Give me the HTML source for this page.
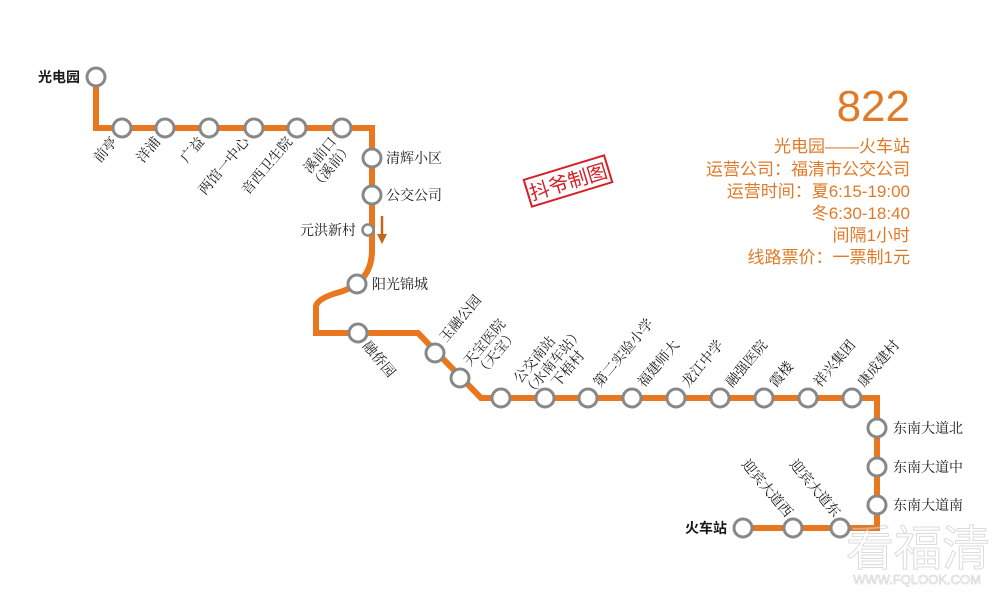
<!DOCTYPE html>
<html><head><meta charset="utf-8"><style>
html,body{margin:0;padding:0;background:#fff;width:1000px;height:608px;overflow:hidden}
svg text{font-family:"Liberation Serif","Noto Serif CJK SC","Noto Sans CJK SC",serif;font-size:14px;fill:#1a1a1a}
.s text{font-family:"Liberation Sans","Noto Sans CJK SC",sans-serif}
.info text{font-family:"Liberation Sans","Noto Sans CJK SC",sans-serif;fill:#e07a28;font-size:17px;text-anchor:end}
</style></head><body>
<svg width="1000" height="608" viewBox="0 0 1000 608">
<path d="M96,84 V128 H372 V250 Q372,282 340,292 Q318,298 316,306 V333 H418 L481,398 H877 V528 H743" fill="none" stroke="#e8771f" stroke-width="6" stroke-linejoin="miter"/>
<g fill="#fff" stroke="#888" stroke-width="3">
<circle cx="96" cy="77" r="9"/>
<circle cx="122" cy="128" r="9"/><circle cx="165" cy="128" r="9"/><circle cx="209" cy="128" r="9"/><circle cx="254" cy="128" r="9"/><circle cx="297" cy="128" r="9"/><circle cx="342" cy="128" r="9"/>
<circle cx="372" cy="158" r="9"/><circle cx="372" cy="195" r="9"/><circle cx="368" cy="230" r="5.5" stroke-width="2.5"/>
<circle cx="357" cy="284" r="9"/><circle cx="358" cy="333" r="9"/><circle cx="435" cy="353" r="9"/><circle cx="460" cy="378" r="9"/>
<circle cx="501" cy="398" r="9"/><circle cx="545" cy="398" r="9"/><circle cx="588" cy="398" r="9"/><circle cx="632" cy="398" r="9"/><circle cx="676" cy="398" r="9"/><circle cx="720" cy="398" r="9"/><circle cx="764" cy="398" r="9"/><circle cx="808" cy="398" r="9"/><circle cx="852" cy="398" r="9"/>
<circle cx="877" cy="428" r="9"/><circle cx="877" cy="467" r="9"/><circle cx="877" cy="505" r="9"/>
<circle cx="743" cy="528" r="9"/><circle cx="793" cy="528" r="9"/><circle cx="840" cy="528" r="9"/>
</g>
<path d="M382,216 V238" stroke="#c8651a" stroke-width="2.5"/><path d="M377,234 L382,244 L387,234 Z" fill="#c8651a"/>
<g class="s">
<text x="80" y="82" text-anchor="end" font-weight="bold">光电园</text>
<text x="727" y="533" text-anchor="end" font-weight="bold">火车站</text>
</g>
<g text-anchor="end">
<text transform="translate(118,142) rotate(-50)">前亭</text>
<text transform="translate(161,142) rotate(-50)">洋浦</text>
<text transform="translate(205,142) rotate(-50)">广益</text>
<text transform="translate(250,142) rotate(-50)">两馆一中心</text>
<text transform="translate(293,142) rotate(-50)">音西卫生院</text>
<text transform="translate(337,142) rotate(-50)"><tspan x="0" y="0">溪前口</tspan><tspan x="6" y="16">（溪前）</tspan></text>
<text transform="translate(786,518) rotate(50)">迎宾大道西</text>
<text transform="translate(834,518) rotate(50)">迎宾大道东</text>
</g>
<g>
<text x="386" y="163">清辉小区</text>
<text x="386" y="200">公交公司</text>
<text x="356" y="235" text-anchor="end">元洪新村</text>
<text x="372" y="289">阳光锦城</text>
<text transform="translate(362,346) rotate(50)">融侨园</text>
<text transform="translate(446,343) rotate(-50)">玉融公园</text>
<text transform="translate(470,367) rotate(-50)"><tspan x="0" y="0">天宝医院</tspan><tspan x="0" y="16">（天宝）</tspan></text>
<text transform="translate(520,384) rotate(-50)"><tspan x="0" y="0">公交南站</tspan><tspan x="-4" y="16">（水南车站）</tspan></text>
<text transform="translate(558,388) rotate(-50)">下梧村</text>
<text transform="translate(600,388) rotate(-50)">第二实验小学</text>
<text transform="translate(644,388) rotate(-50)">福建师大</text>
<text transform="translate(688,388) rotate(-50)">龙江中学</text>
<text transform="translate(732,388) rotate(-50)">融强医院</text>
<text transform="translate(776,388) rotate(-50)">霞楼</text>
<text transform="translate(820,388) rotate(-50)">祥兴集团</text>
<text transform="translate(864,388) rotate(-50)">康成建村</text>
<text x="893" y="433">东南大道北</text>
<text x="893" y="472">东南大道中</text>
<text x="893" y="510">东南大道南</text>
</g>
<g transform="translate(568,181) rotate(-17)">
<rect x="-42" y="-14" width="84" height="28" fill="none" stroke="#d61f26" stroke-width="2"/>
<text x="0" y="8" text-anchor="middle" style="font-size:20px;fill:#d61f26;font-family:'Liberation Sans','Noto Sans CJK SC',sans-serif">抖爷制图</text>
</g>
<g class="info">
<text x="910" y="121" style="font-size:44px">822</text>
<text x="910" y="152">光电园——火车站</text>
<text x="910" y="175">运营公司：福清市公交公司</text>
<text x="910" y="197">运营时间：夏6:15-19:00</text>
<text x="910" y="219">冬6:30-18:40</text>
<text x="910" y="241">间隔1小时</text>
<text x="910" y="263">线路票价：一票制1元</text>
</g>
<g style="opacity:0.35">
<text x="918" y="565" text-anchor="middle" style="font-size:48px;fill:#fff;stroke:#999;stroke-width:1;font-family:'Liberation Sans','Noto Sans CJK SC',sans-serif">看福清</text>
<text x="917" y="584" text-anchor="middle" style="font-size:13px;fill:#fff;stroke:#999;stroke-width:0.8;font-family:'Liberation Sans',sans-serif">WWW.FQLOOK.COM</text>
</g>
</svg>
</body></html>
